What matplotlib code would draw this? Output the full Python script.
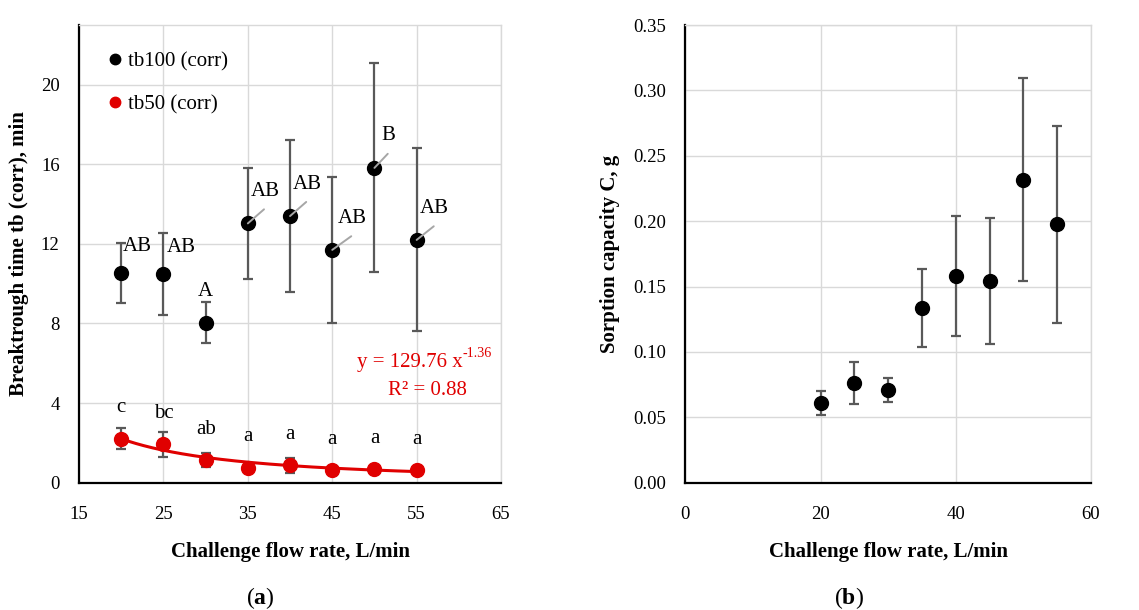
import numpy as np
import matplotlib
matplotlib.use("Agg")
import matplotlib.pyplot as plt
from matplotlib.lines import Line2D
from matplotlib.ticker import FormatStrFormatter

plt.rcParams['font.family'] = ['Liberation Serif', 'DejaVu Serif']
plt.rcParams['mathtext.fontset'] = 'custom'
plt.rcParams['mathtext.rm'] = 'Liberation Serif'
plt.rcParams['mathtext.bf'] = 'Liberation Serif:bold'

# ---- data ----
flow = [20, 25, 30, 35, 40, 45, 50, 55]

tb100 = [10.55, 10.48, 8.05, 13.03, 13.40, 11.70, 15.82, 12.20]
tb100_err = [1.50, 2.05, 1.05, 2.80, 3.80, 3.65, 5.25, 4.60]
tb100_groups = ["AB", "AB", "A", "AB", "AB", "AB", "B", "AB"]

tb50 = [2.22, 1.92, 1.14, 0.74, 0.88, 0.63, 0.68, 0.63]
tb50_err = [0.53, 0.64, 0.37, 0.10, 0.38, 0.08, 0.12, 0.08]
tb50_groups = ["c", "bc", "ab", "a", "a", "a", "a", "a"]

fit_a = 129.76
fit_b = -1.36
fit_r2 = 0.88

capacity = [0.0607, 0.0760, 0.0711, 0.1334, 0.1578, 0.1543, 0.2318, 0.1975]
capacity_err = [0.0092, 0.0160, 0.0093, 0.0300, 0.0460, 0.0483, 0.0777, 0.0750]

# ---- styles ----
RED = '#E00000'
ERR = '#595959'
GRID = '#D9D9D9'
LEADER = '#A6A6A6'
FS_TICK = 13.5
FS = 15

fig = plt.figure(figsize=(11.39, 6.10), dpi=100)
axA = fig.add_axes([0.0694, 0.2087, 0.3705, 0.7503])
axB = fig.add_axes([0.6017, 0.2087, 0.3562, 0.7503])


def style_axes(ax):
    ax.grid(True, color=GRID, lw=1.0)
    ax.set_axisbelow(True)
    for s in ('top', 'right'):
        ax.spines[s].set_color(GRID)
        ax.spines[s].set_linewidth(1.0)
    for s in ('left', 'bottom'):
        ax.spines[s].set_color('black')
        ax.spines[s].set_linewidth(1.6)
    ax.tick_params(axis='both', length=0, labelsize=FS_TICK)
    ax.tick_params(axis='x', pad=17)
    ax.tick_params(axis='y', pad=14)


def place_labels(ax, xlabel, ylabel, ylab_x):
    ax.set_xlabel(xlabel, fontsize=FS, fontweight='bold', va='center')
    ax.set_ylabel(ylabel, fontsize=FS, fontweight='bold', va='center')
    ax.xaxis.set_label_coords(0.5, -0.151)
    ax.yaxis.set_label_coords(ylab_x, 0.5)


eb_kw = dict(fmt='o', ms=10, ecolor=ERR, elinewidth=1.6, capsize=3.5,
             capthick=1.6, zorder=3)

# ---- panel (a) ----
style_axes(axA)
axA.errorbar(flow, tb100, yerr=tb100_err, color='black', **eb_kw)
axA.errorbar(flow, tb50, yerr=tb50_err, color=RED, **eb_kw)
xf = np.linspace(flow[0], flow[-1], 200)
axA.plot(xf, fit_a * xf ** fit_b, color=RED, lw=2.2, zorder=2)

axA.set_xlim(15, 65)
axA.set_ylim(0, 23)
axA.set_xticks(np.arange(15, 66, 10))
axA.set_yticks(np.arange(0, 21, 4))

# group letters above tb100 points (pixel offsets), some with leader lines
label_off = [(16, 26, False), (18, 27, False), (0, 31, False), (17, 32, True),
             (17, 32, True), (20, 31, True), (14, 32, True), (18, 31, True)]
for x, y, g, (dx, dy, lead) in zip(flow, tb100, tb100_groups, label_off):
    axA.annotate(g, (x, y), xytext=(dx, dy), textcoords='offset pixels',
                 ha='center', va='center', fontsize=FS, zorder=4)
    if lead:
        axA.annotate('', (x, y), xytext=(dx * 0.95, dy * 0.44),
                     textcoords='offset pixels',
                     arrowprops=dict(arrowstyle='-', color=LEADER, lw=1.4,
                                     shrinkA=0, shrinkB=0), zorder=4)

for x, y, g in zip(flow, tb50, tb50_groups):
    axA.annotate(g, (x, y), xytext=(0, 31), textcoords='offset pixels',
                 ha='center', va='center', fontsize=FS, zorder=4)

# power-law fit equation with a plain-hyphen exponent
fig.canvas.draw()
renderer = fig.canvas.get_renderer()
sup = axA.text(0.978, 0.283, '%.2f' % fit_b, transform=axA.transAxes,
               color=RED, fontsize=FS * 0.68, ha='right', va='center')
sup_w = sup.get_window_extent(renderer).width
axA.annotate('y = %.2f x' % fit_a, (0.978, 0.262), xycoords='axes fraction',
             xytext=(-sup_w, 0), textcoords='offset pixels',
             color=RED, fontsize=FS, ha='right', va='center')
axA.text(0.825, 0.201, 'R² = %.2f' % fit_r2,
         transform=axA.transAxes, color=RED, fontsize=FS, ha='center', va='center')

handles = [Line2D([], [], ls='none', marker='o', ms=7.5, color='black'),
           Line2D([], [], ls='none', marker='o', ms=7.5, color=RED)]
axA.legend(handles, ['tb100 (corr)', 'tb50 (corr)'], loc='upper left',
           bbox_to_anchor=(0.026, 0.968), frameon=False, fontsize=FS,
           handletextpad=0.0, handlelength=1.2, labelspacing=1.1,
           borderaxespad=0.2)

place_labels(axA, 'Challenge flow rate, L/min', 'Breaktrough time tb (corr), min', -0.142)

# ---- panel (b) ----
style_axes(axB)
axB.errorbar(flow, capacity, yerr=capacity_err, color='black', **eb_kw)
axB.set_xlim(0, 60)
axB.set_ylim(0, 0.35)
axB.set_xticks(np.arange(0, 61, 20))
axB.set_yticks(np.arange(0, 0.351, 0.05))
axB.yaxis.set_major_formatter(FormatStrFormatter('%.2f'))
place_labels(axB, 'Challenge flow rate, L/min', 'Sorption capacity C, g', -0.186)

fig.text(260 / 1139, 1 - 598 / 610, r'($\mathbf{a}$)', fontsize=17, ha='center', va='center')
fig.text(849 / 1139, 1 - 598 / 610, r'($\mathbf{b}$)', fontsize=17, ha='center', va='center')

fig.savefig('out.png', dpi=100)
